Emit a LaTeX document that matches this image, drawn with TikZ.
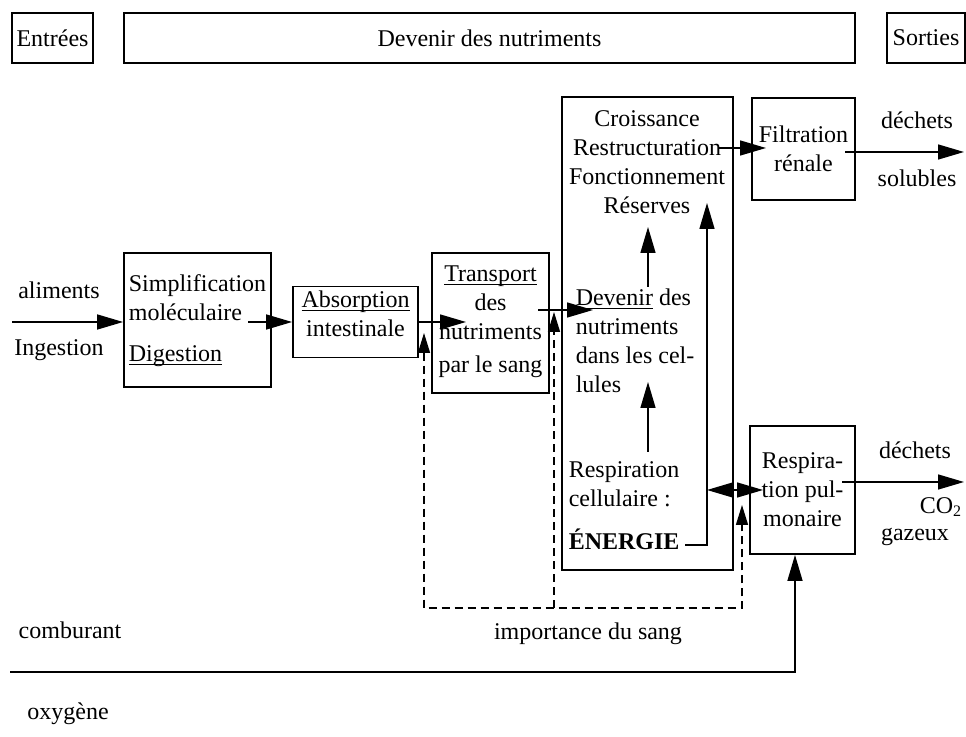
\documentclass[tikz,border=0pt]{standalone}
\usepackage{fontspec}
\setmainfont{Liberation Serif}
\usetikzlibrary{arrows.meta}

\newcommand\souligne[1]{\underline{\smash{#1}}}

\tikzset{
  boite/.style={draw, line width=0.9pt, inner sep=2pt, align=center},
  texte/.style={inner sep=1pt, align=center},
  sang/.style={line width=0.75pt, dash pattern=on 4pt off 2.5pt},
  petite/.tip={Triangle[length=10pt,width=6pt]},
}

\begin{document}
\begin{tikzpicture}[x=0.5pt,y=-0.5pt, font=\fontsize{12}{14.5}\selectfont,
  >={Triangle[length=13pt,width=7.5pt]}, line width=0.75pt]
\useasboundingbox (0,0) rectangle (966,737);

% en-tete
\node[boite, minimum width=40.5pt, minimum height=25pt] (entrees) at (52.5,38) {Entrées};
\node[boite, minimum width=365.5pt, minimum height=25pt] (devenir) at (489.5,38) {Devenir des nutriments};
\node[boite, minimum width=39pt, minimum height=25pt] (sorties) at (926,38) {Sorties};

% digestion et absorption
\node[boite, minimum width=73.5pt, minimum height=67pt, align=left] (simpl) at (197.5,320)
  {Simplification\\moléculaire\\[6pt]\souligne{Digestion}};
\node[boite, minimum width=62.5pt, minimum height=35.5pt] (absorp) at (355.5,322)
  {\souligne{Absorption}\\intestinale};
\node[boite, minimum width=58.5pt, minimum height=70pt] (transp) at (490.5,323) {};
\node[texte] (transptxt) at (490.5,330)
  {\souligne{Transport}\\des\\nutriments\\[2pt]par le sang};
\node[texte] (aliments) at (59,290) {aliments};
\node[texte] (ingestion) at (59,350) {Ingestion};

\coordinate (entree) at (12,322);
\coordinate (molfin) at (248,322);
\coordinate (transpfl) at (466,322);
\draw[->] (entree) -- (entree -| simpl.west);
\draw[->] (molfin) -- (molfin -| absorp.west);
\draw[->] (absorp.east) -- (transpfl);

% devenir dans les cellules
\node[boite, minimum width=85.5pt, minimum height=236.5pt] (cellules) at (647.5,333.5) {};
\node[texte] (roles) at (647,162) {Croissance\\Restructuration\\Fonctionnement\\Réserves};
\node[texte, align=left, anchor=west] (devcel) at (573,341)
  {\souligne{Devenir} des\\nutriments\\dans les cel-\\lules};
\node[texte, align=left, anchor=west] (respcel) at (566,506)
  {Respiration\\cellulaire :\\[7pt]\textbf{ÉNERGIE}};

\coordinate (transpsort) at (538,310);
\coordinate (devcelfl) at (593,310);
\draw[->] (transpsort) -- (devcelfl);
\coordinate (dc1) at (648,287);
\coordinate (dc2) at (648,227);
\draw[->] (dc1) -- (dc2);
\coordinate (rc1) at (648,452);
\coordinate (rc2) at (648,382);
\draw[->] (rc1) -- (rc2);
\coordinate (energie) at (685,545);
\coordinate (coude) at (707,545);
\coordinate (energiefl) at (707,203);
\draw[->] (energie) -- (coude) -- (energiefl);

% sorties
\node[boite, minimum width=51.5pt, minimum height=51pt] (filtr) at (803.5,149) {Filtration\\rénale};
\node[boite, minimum width=52.5pt, minimum height=64pt] (poumon) at (802.5,490) {Respira-\\tion pul-\\monaire};

\coordinate (restr) at (718,148);
\coordinate (filtrfl) at (766,148);
\draw[->] (restr) -- (filtrfl);
\coordinate (filtrsort) at (845,152);
\coordinate (solfl) at (964,152);
\draw[->] (filtrsort) -- (solfl);
\node[texte] (dechets1) at (917,120) {déchets};
\node[texte] (solubles) at (917,178) {solubles};

\coordinate (ech1) at (707,490);
\coordinate (ech2) at (763,490);
\draw[<->] (ech1) -- (ech2);
\coordinate (poumsort) at (842,482);
\coordinate (gazfl) at (964,482);
\draw[->] (poumsort) -- (gazfl);
\node[texte] (dechets2) at (915,450) {déchets};
\node[texte] (co2) at (941,507) {CO\textsubscript{2}};
\node[texte] (gazeux) at (915,537) {gazeux};

% sang
\coordinate (s1h) at (424,333);
\coordinate (s1) at (424,608);
\coordinate (s2h) at (554,312);
\coordinate (s2) at (554,608);
\coordinate (s3h) at (742,505);
\coordinate (s3) at (742,608);
\draw[sang, petite-petite] (s1h) -- (s1) -- (s3) -- (s3h);
\draw[sang, -petite] (s2) -- (s2h);
\node[texte] (importance) at (588,634) {importance du sang};

% oxygene
\coordinate (oxdebut) at (10,672);
\coordinate (oxcoude) at (795,672);
\draw[->] (oxdebut) -- (oxcoude) -- (oxcoude |- poumon.south);
\node[texte] (comburant) at (70,630) {comburant};
\node[texte] (oxygene) at (68,714) {oxygène};
\end{tikzpicture}
\end{document}
